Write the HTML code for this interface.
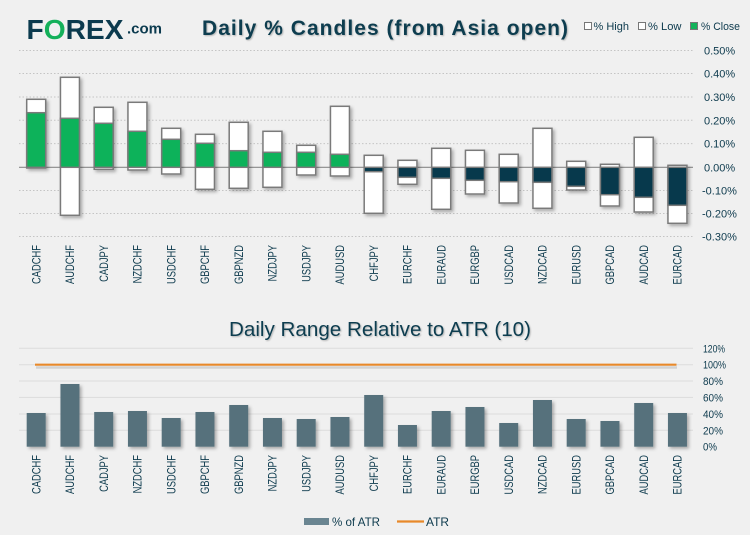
<!DOCTYPE html>
<html><head><meta charset="utf-8"><style>
html,body{margin:0;padding:0;background:#f0f0f0;}
svg{display:block;font-family:"Liberation Sans",sans-serif;}
</style></head><body>
<svg width="750" height="535" viewBox="0 0 750 535" xmlns="http://www.w3.org/2000/svg">
<defs>
<filter id="sh" x="-30%" y="-30%" width="160%" height="160%"><feDropShadow dx="2" dy="2" stdDeviation="1.5" flood-color="#000" flood-opacity="0.3"/></filter>
<filter id="ts" x="-5%" y="-20%" width="110%" height="150%"><feDropShadow dx="1" dy="1" stdDeviation="0.8" flood-color="#000" flood-opacity="0.25"/></filter>
</defs>
<rect width="750" height="535" fill="#f0f0f0"/>

<!-- Logo -->
<text x="26.5" y="39" font-size="28" font-weight="bold" fill="#0b3a4e" textLength="97" lengthAdjust="spacingAndGlyphs">F<tspan fill="#14b05a">O</tspan>REX</text>
<text x="127" y="33.5" font-size="15" font-weight="bold" fill="#0b3a4e" textLength="35" lengthAdjust="spacingAndGlyphs">.com</text>

<!-- Title -->
<text x="202" y="35" font-size="21" font-weight="bold" fill="#0f3d4f" textLength="366" lengthAdjust="spacing" filter="url(#ts)">Daily % Candles (from Asia open)</text>

<!-- Top legend -->
<rect x="584.5" y="22.5" width="7" height="7" fill="#fff" stroke="#777" stroke-width="1"/>
<text x="593.5" y="30" font-size="11" fill="#0d3a4d" textLength="35.5" lengthAdjust="spacingAndGlyphs">% High</text>
<rect x="638.5" y="22.5" width="7" height="7" fill="#fff" stroke="#777" stroke-width="1"/>
<text x="648" y="30" font-size="11" fill="#0d3a4d" textLength="33.5" lengthAdjust="spacingAndGlyphs">% Low</text>
<rect x="690.5" y="22.5" width="7" height="7" fill="#12b25a" stroke="#777" stroke-width="1"/>
<text x="701" y="30" font-size="11" fill="#0d3a4d" textLength="39" lengthAdjust="spacingAndGlyphs">% Close</text>

<!-- Top grid -->
<g stroke="#c4c4c4" stroke-width="1" stroke-dasharray="1.5,2">
<line x1="19" x2="693" y1="50.5" y2="50.5"/>
<line x1="19" x2="693" y1="73.5" y2="73.5"/>
<line x1="19" x2="693" y1="97" y2="97"/>
<line x1="19" x2="693" y1="120.3" y2="120.3"/>
<line x1="19" x2="693" y1="143.6" y2="143.6"/>
<line x1="19" x2="693" y1="190.5" y2="190.5"/>
<line x1="19" x2="693" y1="213.5" y2="213.5"/>
<line x1="19" x2="693" y1="236.5" y2="236.5"/>
</g>
<line x1="19" x2="693" y1="167.3" y2="167.3" stroke="#8a8a8a" stroke-width="1.2"/>

<!-- Top tick labels -->
<g font-size="11" fill="#0d3a4d">
<text x="704" y="54.5">0.50%</text>
<text x="704" y="77.5">0.40%</text>
<text x="704" y="101">0.30%</text>
<text x="704" y="124.3">0.20%</text>
<text x="704" y="147.6">0.10%</text>
<text x="704" y="171.3">0.00%</text>
<text x="702" y="194.5">-0.10%</text>
<text x="702" y="217.5">-0.20%</text>
<text x="702" y="240.5">-0.30%</text>
</g>

<!-- Candles -->
<g stroke="#7a7a7a" stroke-width="1.5">
<g filter="url(#sh)">
<rect x="26.7" y="99.3" width="19" height="68.7" fill="#fff"/>
<rect x="60.45" y="77.3" width="19" height="138" fill="#fff"/>
<rect x="94.2" y="107.3" width="19" height="62" fill="#fff"/>
<rect x="127.95" y="102.3" width="19" height="67.7" fill="#fff"/>
<rect x="161.7" y="128.3" width="19" height="45.7" fill="#fff"/>
<rect x="195.45" y="134.3" width="19" height="55" fill="#fff"/>
<rect x="229.2" y="122.3" width="19" height="66" fill="#fff"/>
<rect x="262.95" y="131.3" width="19" height="56" fill="#fff"/>
<rect x="296.7" y="145.3" width="19" height="29.7" fill="#fff"/>
<rect x="330.45" y="106.3" width="19" height="69.7" fill="#fff"/>
<rect x="364.2" y="155.3" width="19" height="58" fill="#fff"/>
<rect x="397.95" y="160.3" width="19" height="24" fill="#fff"/>
<rect x="431.7" y="148.3" width="19" height="61" fill="#fff"/>
<rect x="465.45" y="150.3" width="19" height="43.7" fill="#fff"/>
<rect x="499.2" y="154.3" width="19" height="48.7" fill="#fff"/>
<rect x="532.95" y="128.3" width="19" height="80" fill="#fff"/>
<rect x="566.7" y="161.3" width="19" height="28.7" fill="#fff"/>
<rect x="600.45" y="164.3" width="19" height="41.7" fill="#fff"/>
<rect x="634.2" y="137.3" width="19" height="74.7" fill="#fff"/>
<rect x="667.95" y="165.3" width="19" height="58" fill="#fff"/>
</g>
<g fill="#0db25a">
<rect x="26.7" y="112.7" width="19" height="54.6"/>
<rect x="60.45" y="118.3" width="19" height="49"/>
<rect x="94.2" y="123.3" width="19" height="44"/>
<rect x="127.95" y="131.3" width="19" height="36"/>
<rect x="161.7" y="139.3" width="19" height="28"/>
<rect x="195.45" y="143.3" width="19" height="24"/>
<rect x="229.2" y="150.7" width="19" height="16.6"/>
<rect x="262.95" y="152.3" width="19" height="15"/>
<rect x="296.7" y="152.3" width="19" height="15"/>
<rect x="330.45" y="154.3" width="19" height="13"/>
</g>
<g fill="#07394c">
<rect x="364.2" y="167.3" width="19" height="4.4"/>
<rect x="397.95" y="167.3" width="19" height="10"/>
<rect x="431.7" y="167.3" width="19" height="11"/>
<rect x="465.45" y="167.3" width="19" height="13"/>
<rect x="499.2" y="167.3" width="19" height="14.4"/>
<rect x="532.95" y="167.3" width="19" height="15"/>
<rect x="566.7" y="167.3" width="19" height="19"/>
<rect x="600.45" y="167.3" width="19" height="27.4"/>
<rect x="634.2" y="167.3" width="19" height="30"/>
<rect x="667.95" y="167.3" width="19" height="38"/>
</g>
</g>

<!-- Top x labels -->
<g font-size="12" fill="#0d3a4d" text-anchor="end">
<text transform="translate(40.4,245) rotate(-90) scale(0.78,1)">CADCHF</text>
<text transform="translate(74.15,245) rotate(-90) scale(0.78,1)">AUDCHF</text>
<text transform="translate(107.9,245) rotate(-90) scale(0.78,1)">CADJPY</text>
<text transform="translate(141.65,245) rotate(-90) scale(0.78,1)">NZDCHF</text>
<text transform="translate(175.4,245) rotate(-90) scale(0.78,1)">USDCHF</text>
<text transform="translate(209.15,245) rotate(-90) scale(0.78,1)">GBPCHF</text>
<text transform="translate(242.9,245) rotate(-90) scale(0.78,1)">GBPNZD</text>
<text transform="translate(276.65,245) rotate(-90) scale(0.78,1)">NZDJPY</text>
<text transform="translate(310.4,245) rotate(-90) scale(0.78,1)">USDJPY</text>
<text transform="translate(344.15,245) rotate(-90) scale(0.78,1)">AUDUSD</text>
<text transform="translate(377.9,245) rotate(-90) scale(0.78,1)">CHFJPY</text>
<text transform="translate(411.65,245) rotate(-90) scale(0.78,1)">EURCHF</text>
<text transform="translate(445.4,245) rotate(-90) scale(0.78,1)">EURAUD</text>
<text transform="translate(479.15,245) rotate(-90) scale(0.78,1)">EURGBP</text>
<text transform="translate(512.9,245) rotate(-90) scale(0.78,1)">USDCAD</text>
<text transform="translate(546.65,245) rotate(-90) scale(0.78,1)">NZDCAD</text>
<text transform="translate(580.4,245) rotate(-90) scale(0.78,1)">EURUSD</text>
<text transform="translate(614.15,245) rotate(-90) scale(0.78,1)">GBPCAD</text>
<text transform="translate(647.9,245) rotate(-90) scale(0.78,1)">AUDCAD</text>
<text transform="translate(681.65,245) rotate(-90) scale(0.78,1)">EURCAD</text>
</g>

<!-- Bottom title -->
<text x="229" y="336" font-size="20" fill="#0f3d4f" textLength="302" lengthAdjust="spacingAndGlyphs" filter="url(#ts)">Daily Range Relative to ATR (10)</text>

<!-- Bottom grid -->
<g stroke="#dcdcdc" stroke-width="1">
<line x1="19" x2="693" y1="348.3" y2="348.3"/>
<line x1="19" x2="693" y1="364.7" y2="364.7"/>
<line x1="19" x2="693" y1="381" y2="381"/>
<line x1="19" x2="693" y1="397.4" y2="397.4"/>
<line x1="19" x2="693" y1="414" y2="414"/>
<line x1="19" x2="693" y1="430.3" y2="430.3"/>
</g>

<!-- Bottom tick labels -->
<g font-size="11" fill="#0d3a4d">
<text x="703" y="352.3" textLength="22" lengthAdjust="spacingAndGlyphs">120%</text>
<text x="703" y="368.7" textLength="23" lengthAdjust="spacingAndGlyphs">100%</text>
<text x="703" y="385" textLength="20" lengthAdjust="spacingAndGlyphs">80%</text>
<text x="703" y="401.4" textLength="20" lengthAdjust="spacingAndGlyphs">60%</text>
<text x="703" y="418" textLength="20" lengthAdjust="spacingAndGlyphs">40%</text>
<text x="703" y="434.3" textLength="20" lengthAdjust="spacingAndGlyphs">20%</text>
<text x="703" y="450.7" textLength="14" lengthAdjust="spacingAndGlyphs">0%</text>
</g>

<!-- ATR line -->
<line x1="36" x2="677" y1="367.5" y2="367.5" stroke="#000" stroke-opacity="0.12" stroke-width="2.5"/>
<line x1="35" x2="676.5" y1="364.7" y2="364.7" stroke="#e8892a" stroke-width="2.2"/>

<!-- Bottom bars -->
<g fill="#56717c" filter="url(#sh)">
<rect x="26.7" y="413" width="19" height="33.7"/>
<rect x="60.45" y="384" width="19" height="62.7"/>
<rect x="94.2" y="412" width="19" height="34.7"/>
<rect x="127.95" y="411" width="19" height="35.7"/>
<rect x="161.7" y="418" width="19" height="28.7"/>
<rect x="195.45" y="412" width="19" height="34.7"/>
<rect x="229.2" y="405" width="19" height="41.7"/>
<rect x="262.95" y="418" width="19" height="28.7"/>
<rect x="296.7" y="419" width="19" height="27.7"/>
<rect x="330.45" y="417" width="19" height="29.7"/>
<rect x="364.2" y="395" width="19" height="51.7"/>
<rect x="397.95" y="425" width="19" height="21.7"/>
<rect x="431.7" y="411" width="19" height="35.7"/>
<rect x="465.45" y="407" width="19" height="39.7"/>
<rect x="499.2" y="423" width="19" height="23.7"/>
<rect x="532.95" y="400" width="19" height="46.7"/>
<rect x="566.7" y="419" width="19" height="27.7"/>
<rect x="600.45" y="421" width="19" height="25.7"/>
<rect x="634.2" y="403" width="19" height="43.7"/>
<rect x="667.95" y="413" width="19" height="33.7"/>
</g>

<!-- Bottom x labels -->
<g font-size="12" fill="#0d3a4d" text-anchor="end">
<text transform="translate(40.4,455) rotate(-90) scale(0.78,1)">CADCHF</text>
<text transform="translate(74.15,455) rotate(-90) scale(0.78,1)">AUDCHF</text>
<text transform="translate(107.9,455) rotate(-90) scale(0.78,1)">CADJPY</text>
<text transform="translate(141.65,455) rotate(-90) scale(0.78,1)">NZDCHF</text>
<text transform="translate(175.4,455) rotate(-90) scale(0.78,1)">USDCHF</text>
<text transform="translate(209.15,455) rotate(-90) scale(0.78,1)">GBPCHF</text>
<text transform="translate(242.9,455) rotate(-90) scale(0.78,1)">GBPNZD</text>
<text transform="translate(276.65,455) rotate(-90) scale(0.78,1)">NZDJPY</text>
<text transform="translate(310.4,455) rotate(-90) scale(0.78,1)">USDJPY</text>
<text transform="translate(344.15,455) rotate(-90) scale(0.78,1)">AUDUSD</text>
<text transform="translate(377.9,455) rotate(-90) scale(0.78,1)">CHFJPY</text>
<text transform="translate(411.65,455) rotate(-90) scale(0.78,1)">EURCHF</text>
<text transform="translate(445.4,455) rotate(-90) scale(0.78,1)">EURAUD</text>
<text transform="translate(479.15,455) rotate(-90) scale(0.78,1)">EURGBP</text>
<text transform="translate(512.9,455) rotate(-90) scale(0.78,1)">USDCAD</text>
<text transform="translate(546.65,455) rotate(-90) scale(0.78,1)">NZDCAD</text>
<text transform="translate(580.4,455) rotate(-90) scale(0.78,1)">EURUSD</text>
<text transform="translate(614.15,455) rotate(-90) scale(0.78,1)">GBPCAD</text>
<text transform="translate(647.9,455) rotate(-90) scale(0.78,1)">AUDCAD</text>
<text transform="translate(681.65,455) rotate(-90) scale(0.78,1)">EURCAD</text>
</g>

<!-- Bottom legend -->
<rect x="304" y="518" width="25" height="7" fill="#6a8591"/>
<text x="332" y="526" font-size="12" fill="#0d3a4d" textLength="48" lengthAdjust="spacingAndGlyphs">% of ATR</text>
<line x1="397" x2="424" y1="521.5" y2="521.5" stroke="#e8892a" stroke-width="2.2"/>
<text x="426" y="526" font-size="12" fill="#0d3a4d" textLength="23" lengthAdjust="spacingAndGlyphs">ATR</text>
</svg>
</body></html>
